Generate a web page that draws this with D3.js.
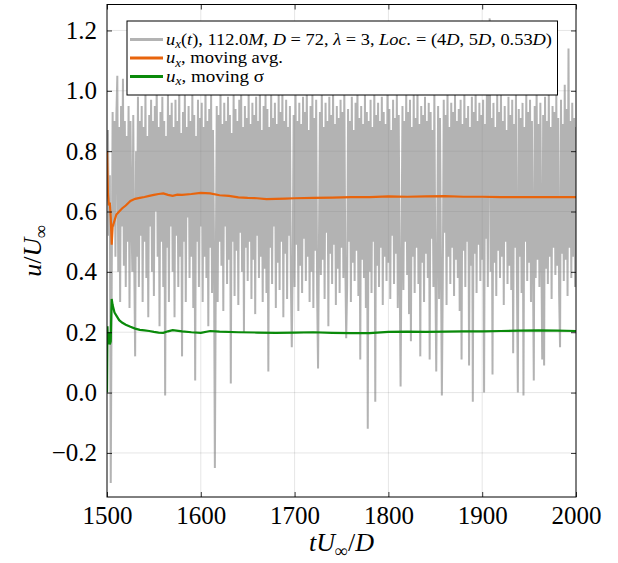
<!DOCTYPE html>
<html><head><meta charset="utf-8">
<script src="https://cdn.jsdelivr.net/npm/d3@7"></script>
<style>body{margin:0;background:#fff}svg{display:block}</style>
</head><body>
<script>
// ---- data ----
const tStart = 1500, dt = 1;
const ux = [
0.80,0.87,0.52,0.72,-0.30,0.35,0.93,0.55,0.90,0.45,
0.92,1.05,0.40,0.88,0.30,0.95,0.55,1.04,0.42,0.90,
0.35,0.85,0.50,0.95,0.28,0.90,0.60,0.40,0.92,0.45,
0.12,0.80,0.45,0.98,0.35,0.90,0.52,0.95,0.30,0.88,
0.50,1.00,0.38,0.85,0.25,0.92,0.55,0.97,0.40,0.90,
0.32,0.95,0.60,1.02,0.45,0.88,0.22,0.93,0.50,0.98,
0.35,0.90,-0.01,0.85,0.48,1.00,0.30,0.92,0.55,0.96,
0.40,0.88,0.25,0.97,0.52,0.90,0.35,1.03,0.45,0.86,
0.12,0.93,0.50,0.99,0.30,0.88,0.58,0.95,0.38,0.90,
0.45,1.00,0.28,0.92,0.04,0.85,0.50,0.97,0.35,0.91,
0.55,0.96,0.30,0.88,0.45,1.02,0.38,0.90,0.22,0.94,
0.48,0.99,0.33,0.87,0.52,-0.25,0.40,0.95,0.30,0.92,
0.50,1.01,0.42,0.89,0.27,0.96,0.55,0.90,0.36,0.98,
0.44,0.92,0.03,0.86,0.50,0.99,0.32,0.94,0.47,0.90,
0.29,0.97,0.53,1.02,0.40,0.88,0.20,0.95,0.48,0.91,
0.37,1.00,0.50,0.89,0.31,0.96,0.44,0.92,0.26,0.98,
0.52,0.90,0.38,1.03,0.45,0.87,0.30,0.95,0.41,0.99,
0.33,0.94,0.07,0.88,0.48,1.00,0.36,0.91,0.55,0.96,
0.28,0.89,0.43,0.99,0.34,0.93,0.50,1.01,0.25,0.90,
0.46,0.97,0.31,0.88,0.52,0.95,0.38,0.15,0.44,0.92,
0.35,1.00,0.49,0.90,0.27,0.96,0.42,0.89,0.33,0.98,
0.51,0.93,0.37,1.02,0.45,0.87,0.30,0.95,0.40,0.99,
0.28,0.91,0.47,0.97,0.34,0.08,0.50,0.93,0.39,1.00,
0.44,0.88,0.31,0.96,0.53,0.90,0.22,0.98,0.46,0.92,
0.36,1.01,0.49,0.89,0.29,0.95,0.41,0.91,0.33,0.97,
0.48,0.93,0.38,1.00,0.45,0.18,0.35,0.94,0.50,0.90,
0.30,0.98,0.43,0.87,0.37,0.96,0.47,1.02,0.32,0.91,
0.11,0.95,0.44,0.89,0.38,0.99,0.28,0.93,-0.12,0.90,
0.40,0.97,0.33,0.88,0.50,1.01,-0.03,0.92,0.42,0.96,
0.35,0.90,0.48,0.98,0.29,0.93,0.45,0.89,0.37,1.00,
0.43,0.94,0.31,0.87,0.52,0.97,0.36,0.91,0.46,0.99,
0.28,0.92,0.41,0.02,0.47,0.95,0.34,0.90,0.50,1.00,
0.39,0.93,0.26,0.97,0.17,0.88,0.45,0.99,0.33,0.91,
0.48,1.02,0.36,0.89,0.12,0.95,0.43,0.92,0.30,0.98,
0.46,0.90,0.38,0.96,0.11,0.93,0.51,0.87,0.35,1.00,
0.42,0.07,0.49,0.95,0.31,0.91,0.44,-0.01,0.37,0.97,
0.53,0.92,0.29,1.01,0.45,0.88,0.36,0.96,0.48,0.93,
0.32,0.99,0.44,0.90,0.38,0.94,0.27,0.97,0.11,0.89,
0.47,1.00,0.35,0.91,0.50,0.95,0.09,0.88,0.42,0.98,
-0.03,0.93,0.46,1.02,0.33,0.90,0.49,0.96,0.37,0.92,
0.44,0.97,0.00,0.89,0.51,1.00,0.35,0.94,1.24,0.40,
0.91,0.06,0.96,0.43,0.88,0.32,0.99,0.47,0.93,0.38,
1.01,0.45,0.90,0.29,0.95,0.50,0.87,0.36,0.98,0.42,
0.92,0.34,0.97,0.13,0.89,0.48,1.00,0.39,0.00,0.94,
0.45,0.91,0.33,0.96,-0.01,0.88,0.50,0.99,0.37,0.93,
0.43,0.97,0.30,0.90,0.47,0.04,0.95,0.38,1.01,0.44,
0.89,0.35,0.96,0.49,0.11,0.92,0.09,0.98,0.41,0.90,
0.36,1.00,0.45,0.88,0.31,0.95,0.48,0.93,0.39,0.99,
0.42,0.91,0.33,0.15,0.97,0.46,0.89,0.37,1.02,0.44,
0.94,0.32,1.14,0.48,0.90,0.38,0.96,0.45,0.91,0.35,
0.88
];
const tAvg = [1500,1501,1502,1503,1504,1505,1506,1508,1510,1513,1516,1520,1525,1530,1535,1540,1545,1550,1555,1560,1565,1570,1575,1580,1590,1600,1610,1620,1630,1640,1650,1660,1670,1680,1690,1700,1720,1740,1760,1780,1800,1820,1840,1860,1880,1900,1920,1940,1960,1980,2000];
const avg  = [0.80,0.66,0.62,0.63,0.58,0.49,0.55,0.57,0.59,0.60,0.61,0.62,0.635,0.642,0.645,0.648,0.652,0.655,0.658,0.66,0.655,0.652,0.656,0.655,0.658,0.662,0.66,0.654,0.652,0.647,0.645,0.644,0.641,0.642,0.643,0.644,0.645,0.646,0.648,0.648,0.650,0.649,0.650,0.651,0.649,0.649,0.648,0.648,0.648,0.648,0.648];
const tSig = [1500,1500.5,1501,1502,1503,1504,1504.5,1505,1506,1508,1510,1513,1516,1520,1525,1530,1535,1540,1545,1550,1555,1560,1565,1570,1580,1590,1600,1610,1620,1640,1660,1680,1700,1720,1740,1760,1780,1800,1820,1840,1860,1880,1900,1920,1940,1960,1980,2000];
const sig  = [0.00,0.22,0.16,0.20,0.16,0.17,0.25,0.31,0.29,0.265,0.255,0.24,0.232,0.225,0.218,0.212,0.208,0.206,0.204,0.201,0.199,0.198,0.203,0.207,0.203,0.200,0.198,0.204,0.202,0.200,0.199,0.198,0.199,0.200,0.198,0.197,0.197,0.201,0.202,0.201,0.202,0.203,0.203,0.204,0.205,0.206,0.205,0.204];
const xTicks = [1500,1600,1700,1800,1900,2000];
const yTicks = [-0.2,0.0,0.2,0.4,0.6,0.8,1.0,1.2];
const xDomain = [1500,2000];
const yDomain = [-0.346,1.286];

// ---- layout ----
const W=618,H=563;
const L=107,R=576,T=4.5,B=497;
const serif = "'Liberation Serif','DejaVu Serif',serif";
const svg = d3.select("body").append("svg").attr("width",W).attr("height",H);
const x = d3.scaleLinear().domain(xDomain).range([L,R]);
const y = d3.scaleLinear().domain(yDomain).range([B,T]);

svg.append("defs").append("clipPath").attr("id","clip")
  .append("rect").attr("x",L).attr("y",T).attr("width",R-L).attr("height",B-T);

// grid
const grid = svg.append("g");
grid.selectAll(".gx").data(xTicks.slice(1,-1)).join("line")
  .attr("x1",d=>x(d)).attr("x2",d=>x(d)).attr("y1",T).attr("y2",B)
  .attr("stroke","#000").attr("stroke-opacity",0.1).attr("stroke-width",1);
grid.selectAll(".gy").data(yTicks).join("line")
  .attr("x1",L).attr("x2",R).attr("y1",d=>y(d)).attr("y2",d=>y(d))
  .attr("stroke","#000").attr("stroke-opacity",0.1).attr("stroke-width",1);

// series
const plot = svg.append("g").attr("clip-path","url(#clip)");
const lineIdx = d3.line().x((d,i)=>x(tStart+i*dt)).y(d=>y(d));
plot.append("path").datum(ux).attr("d",lineIdx)
  .attr("fill","none").attr("stroke","#808080").attr("stroke-opacity",0.6)
  .attr("stroke-width",2).attr("stroke-linejoin","miter");
const lineXY = d3.line().x(d=>x(d[0])).y(d=>y(d[1]));
plot.append("path").datum(tAvg.map((t,i)=>[t,avg[i]])).attr("d",lineXY)
  .attr("fill","none").attr("stroke","#e8640c").attr("stroke-width",2.2);
plot.append("path").datum(tSig.map((t,i)=>[t,sig[i]])).attr("d",lineXY)
  .attr("fill","none").attr("stroke","#0a8a0a").attr("stroke-width",2.2);

// axes (ticks inward, mirrored)
function styleAxis(g){
  g.select(".domain").remove();
  g.selectAll(".tick line").attr("stroke","#000").attr("stroke-opacity",0.8);
  g.selectAll(".tick text").attr("font-family",serif).attr("font-size",25).attr("fill","#000");
}
const fmtY = d=> (d<0?"\u2212":"")+Math.abs(d).toFixed(1);
svg.append("g").attr("transform",`translate(0,${B})`)
  .call(d3.axisBottom(x).tickValues(xTicks).tickFormat(d3.format("d")).tickSizeInner(-5).tickSizeOuter(0).tickPadding(9))
  .call(styleAxis);
svg.append("g").attr("transform",`translate(0,${T})`)
  .call(d3.axisTop(x).tickValues(xTicks).tickFormat("").tickSizeInner(-5).tickSizeOuter(0))
  .call(styleAxis);
svg.append("g").attr("transform",`translate(${L},0)`)
  .call(d3.axisLeft(y).tickValues(yTicks).tickFormat(fmtY).tickSizeInner(-5).tickSizeOuter(0).tickPadding(10))
  .call(styleAxis);
svg.append("g").attr("transform",`translate(${R},0)`)
  .call(d3.axisRight(y).tickValues(yTicks).tickFormat("").tickSizeInner(-5).tickSizeOuter(0))
  .call(styleAxis);

// frame
svg.append("rect").attr("x",L).attr("y",T).attr("width",R-L).attr("height",B-T)
  .attr("fill","none").attr("stroke","#000").attr("stroke-width",1);

// math text helper
function mathText(sel, segs, size){
  segs.forEach(([s,st],k)=>{
    const prev = k>0 ? segs[k-1][1] : null;
    const ts = sel.append("tspan").text(s);
    if(st==="sub"){ ts.attr("font-style","italic").attr("font-size",size*0.7).attr("dy",size*0.22); }
    else { ts.attr("font-style", st==="i"?"italic":"normal").attr("font-size",size);
      if(prev==="sub") ts.attr("dy",-size*0.22); }
  });
}

// axis labels
const xl = svg.append("text").attr("x",(L+R)/2).attr("y",551).attr("text-anchor","middle")
  .attr("font-family",serif).attr("fill","#000");
mathText(xl,[["tU","i"],["\u221e","sub"],["/","r"],["D","i"]],26);
const yl = svg.append("text").attr("transform",`translate(41,${(T+B)/2}) rotate(-90)`).attr("text-anchor","middle")
  .attr("font-family",serif).attr("fill","#000");
mathText(yl,[["u","i"],["/","r"],["U","i"],["\u221e","sub"]],26);

// legend
const lg = svg.append("g");
lg.append("rect").attr("x",127).attr("y",21).attr("width",430.5).attr("height",74)
  .attr("fill","#fff").attr("stroke","#000").attr("stroke-width",1);
const legRows = [
  {color:"#808080", op:0.6, len:386, segs:[["u","i"],["x","sub"],["(","r"],["t","i"],["), 112.0","r"],["M","i"],[", ","r"],["D","i"],[" = 72, ","r"],["\u03bb","i"],[" = 3, ","r"],["Loc.","i"],[" = (4","r"],["D","i"],[", 5","r"],["D","i"],[", 0.53","r"],["D","i"],[")","r"]]},
  {color:"#e8640c", op:1, len:117, segs:[["u","i"],["x","sub"],[",  moving avg.","r"]]},
  {color:"#0a8a0a", op:1, len:98, segs:[["u","i"],["x","sub"],[",  moving \u03c3","r"]]}
];
const rowY = [39.5,58,76.5];
legRows.forEach((r,i)=>{
  lg.append("line").attr("x1",130).attr("x2",163).attr("y1",rowY[i]).attr("y2",rowY[i])
    .attr("stroke",r.color).attr("stroke-opacity",r.op).attr("stroke-width",2.8);
  const t = lg.append("text").attr("x",166).attr("y",rowY[i]+5).attr("font-family",serif).attr("fill","#000")
    .attr("textLength",r.len).attr("lengthAdjust","spacingAndGlyphs");
  mathText(t,r.segs,17);
});
</script>
</body></html>
